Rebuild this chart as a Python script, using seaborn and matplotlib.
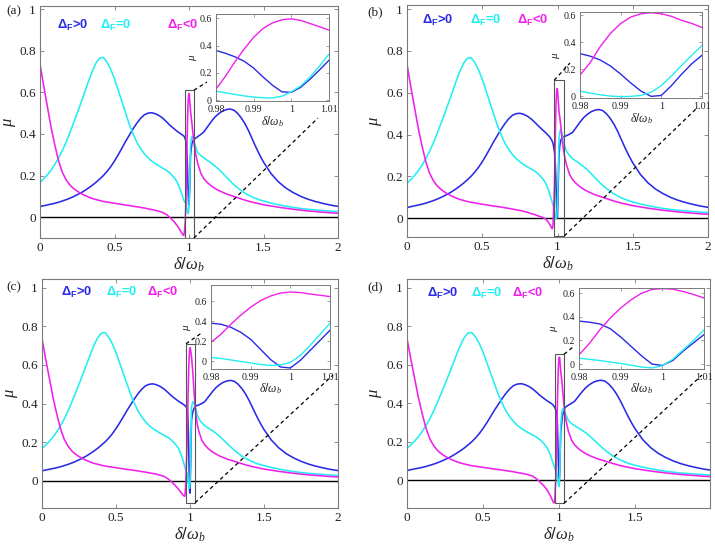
import numpy as np
import pandas as pd
import matplotlib
matplotlib.use("Agg")
import matplotlib.pyplot as plt
import seaborn as sns
from matplotlib import font_manager
from matplotlib.lines import Line2D
from matplotlib.patches import Rectangle

# ---------------- data ----------------
CASES = ["pos", "zero", "neg"]
COLORS = {"pos": "#2a2ae6", "zero": "#22eef2", "neg": "#f020ec"}
LEGEND_TEXT = {"pos": r"$\mathbf{\Delta_F}$>0", "zero": r"$\mathbf{\Delta_F}$=0", "neg": r"$\mathbf{\Delta_F}$<0"}

# broad part, left of resonance (shared by all panels)
x_left = [0, .025, .05, .075, .1, .125, .15, .175, .2, .225, .25, .275, .3, .325, .35, .375,
          .4, .425, .45, .475, .5, .525, .55, .575, .6, .625, .65, .675, .7, .725, .75, .775, .8]
blue_left = [0.051, 0.055, 0.059, 0.063, 0.067, 0.072, 0.078, 0.084, 0.091, 0.099, 0.108, 0.117,
             0.128, 0.14, 0.153, 0.167, 0.183, 0.2, 0.22, 0.243, 0.27, 0.3, 0.332, 0.365, 0.395,
             0.425, 0.452, 0.475, 0.492, 0.5, 0.502, 0.497, 0.488]
cyan_left = [0.167, 0.184, 0.204, 0.227, 0.254, 0.285, 0.32, 0.36, 0.405, 0.452, 0.5, 0.55, 0.6,
             0.652, 0.7, 0.74, 0.765, 0.768, 0.745, 0.71, 0.665, 0.61, 0.555, 0.5, 0.445, 0.4,
             0.36, 0.33, 0.305, 0.285, 0.27, 0.257, 0.246]
mag_left = [0.737, 0.63, 0.53, 0.43, 0.345, 0.27, 0.215, 0.18, 0.155, 0.138, 0.125, 0.114, 0.105,
            0.097, 0.09, 0.085, 0.08, 0.076, 0.073, 0.07, 0.067, 0.064, 0.061, 0.058, 0.056,
            0.053, 0.05, 0.047, 0.044, 0.04, 0.037, 0.033, 0.028]

# broad part, right of resonance (shared by all panels)
x_right = [1.1, 1.125, 1.15, 1.175, 1.2, 1.225, 1.25, 1.275, 1.3, 1.325, 1.35, 1.375, 1.4, 1.425,
           1.45, 1.475, 1.5, 1.55, 1.6, 1.65, 1.7, 1.75, 1.8, 1.85, 1.9, 1.95, 2.0]
blue_right = [0.41, 0.435, 0.46, 0.482, 0.498, 0.51, 0.517, 0.52, 0.515, 0.5, 0.478, 0.45, 0.415,
              0.375, 0.335, 0.298, 0.265, 0.21, 0.17, 0.14, 0.118, 0.1, 0.086, 0.075, 0.066,
              0.058, 0.052]
cyan_right = [0.285, 0.272, 0.26, 0.246, 0.23, 0.212, 0.193, 0.175, 0.157, 0.142, 0.128, 0.116,
              0.106, 0.097, 0.09, 0.083, 0.078, 0.068, 0.06, 0.053, 0.047, 0.042, 0.038, 0.035,
              0.032, 0.029, 0.027]
mag_right = [0.185, 0.165, 0.15, 0.138, 0.128, 0.12, 0.112, 0.106, 0.1, 0.094, 0.088, 0.082, 0.077,
             0.072, 0.068, 0.064, 0.06, 0.054, 0.048, 0.043, 0.038, 0.034, 0.03, 0.027, 0.024,
             0.021, 0.019]

# near-resonance parts (per panel)
x_near_left = [0.825, 0.85, 0.875, 0.9, 0.92, 0.94, 0.95, 0.96, 0.965, 0.97, 0.975]
x_near_right = [1.015, 1.02, 1.03, 1.04, 1.05, 1.06, 1.08]
x_inset = [0.98, 0.9825, 0.985, 0.9875, 0.99, 0.9925, 0.995, 0.9975, 1.0, 1.0025, 1.005, 1.0075, 1.01]

# panel (a)
a_blue_nl = [0.475, 0.458, 0.44, 0.425, 0.413, 0.403, 0.398, 0.393, 0.39, 0.385, 0.375]
a_cyan_nl = [0.235, 0.225, 0.21, 0.19, 0.17, 0.135, 0.115, 0.093, 0.083, 0.075, 0.07]
a_mag_nl = [0.022, 0.012, -0.003, -0.022, -0.04, -0.062, -0.075, -0.086, -0.088, -0.065, -0.015]
a_blue_in = [0.364, 0.343, 0.318, 0.285, 0.235, 0.17, 0.11, 0.062, 0.058, 0.095, 0.155, 0.222, 0.293]
a_cyan_in = [0.067, 0.055, 0.043, 0.032, 0.024, 0.018, 0.018, 0.03, 0.062, 0.105, 0.17, 0.25, 0.338]
a_mag_in = [0.083, 0.175, 0.28, 0.375, 0.46, 0.525, 0.565, 0.588, 0.595, 0.583, 0.56, 0.537, 0.512]
a_blue_nr = [0.33, 0.355, 0.372, 0.378, 0.382, 0.388, 0.398]
a_cyan_nr = [0.375, 0.387, 0.375, 0.35, 0.325, 0.31, 0.295]
a_mag_nr = [0.48, 0.45, 0.38, 0.325, 0.285, 0.255, 0.21]

# panel (b)
b_blue_nl = [0.475, 0.458, 0.44, 0.423, 0.41, 0.395, 0.387, 0.375, 0.368, 0.358, 0.34]
b_cyan_nl = [0.235, 0.225, 0.21, 0.19, 0.17, 0.135, 0.113, 0.088, 0.075, 0.062, 0.05]
b_mag_nl = [0.022, 0.017, 0.01, 0.004, -0.003, -0.02, -0.032, -0.045, -0.05, -0.035, 0.05]
b_blue_in = [0.317, 0.298, 0.269, 0.225, 0.165, 0.099, 0.039, 0.0, 0.007, 0.08, 0.165, 0.242, 0.305]
b_cyan_in = [0.039, 0.024, 0.012, 0.002, -0.002, 0.0, 0.007, 0.031, 0.08, 0.152, 0.23, 0.305, 0.377]
b_mag_in = [0.157, 0.25, 0.37, 0.467, 0.54, 0.588, 0.612, 0.62, 0.612, 0.593, 0.563, 0.54, 0.51]
b_blue_nr = [0.345, 0.37, 0.385, 0.39, 0.392, 0.395, 0.402]
b_cyan_nr = [0.41, 0.425, 0.405, 0.37, 0.34, 0.32, 0.3]
b_mag_nr = [0.485, 0.455, 0.38, 0.325, 0.285, 0.255, 0.21]

# panel (c)
c_blue_nl = [0.475, 0.458, 0.44, 0.425, 0.413, 0.403, 0.398, 0.393, 0.39, 0.386, 0.382]
c_cyan_nl = [0.235, 0.225, 0.21, 0.19, 0.17, 0.135, 0.112, 0.085, 0.07, 0.058, 0.048]
c_mag_nl = [0.022, 0.01, -0.006, -0.025, -0.042, -0.062, -0.072, -0.08, -0.081, -0.04, 0.06]
c_blue_in = [0.38, 0.37, 0.34, 0.29, 0.22, 0.12, 0.02, -0.055, -0.065, 0.01, 0.11, 0.21, 0.31]
c_cyan_in = [0.04, 0.03, 0.015, 0.0, -0.015, -0.03, -0.04, -0.035, -0.01, 0.06, 0.16, 0.27, 0.38]
c_mag_in = [0.19, 0.27, 0.37, 0.46, 0.54, 0.605, 0.65, 0.68, 0.69, 0.685, 0.67, 0.658, 0.645]
c_blue_nr = [0.34, 0.36, 0.38, 0.388, 0.39, 0.393, 0.4]
c_cyan_nr = [0.40, 0.41, 0.395, 0.37, 0.34, 0.32, 0.3]
c_mag_nr = [0.6, 0.55, 0.43, 0.34, 0.29, 0.255, 0.21]

# panel (d)
d_blue_nl = [0.475, 0.458, 0.44, 0.425, 0.413, 0.403, 0.398, 0.39, 0.385, 0.378, 0.37]
d_cyan_nl = [0.235, 0.225, 0.21, 0.19, 0.17, 0.135, 0.112, 0.088, 0.075, 0.065, 0.056]
d_mag_nl = [0.022, 0.008, -0.01, -0.03, -0.05, -0.078, -0.095, -0.112, -0.118, -0.11, -0.03]
d_blue_in = [0.364, 0.355, 0.34, 0.30, 0.23, 0.15, 0.07, 0.0, -0.012, 0.03, 0.11, 0.18, 0.25]
d_cyan_in = [0.05, 0.04, 0.03, 0.017, 0.005, -0.01, -0.025, -0.033, -0.015, 0.04, 0.12, 0.2, 0.29]
d_mag_in = [0.078, 0.175, 0.29, 0.39, 0.475, 0.545, 0.60, 0.633, 0.64, 0.635, 0.615, 0.59, 0.56]
d_blue_nr = [0.29, 0.33, 0.365, 0.38, 0.385, 0.39, 0.4]
d_cyan_nr = [0.34, 0.37, 0.365, 0.345, 0.33, 0.31, 0.295]
d_mag_nr = [0.53, 0.49, 0.4, 0.33, 0.29, 0.255, 0.21]

main_xticks = [0, 0.5, 1, 1.5, 2]
main_yticks = [0, 0.2, 0.4, 0.6, 0.8, 1]
inset_xticks = [0.98, 0.99, 1.0, 1.01]
inset_yticks = [0, 0.2, 0.4, 0.6]
panel_labels = ["(a)", "(b)", "(c)", "(d)"]

near = {
    "a": dict(pos=(a_blue_nl, a_blue_in, a_blue_nr), zero=(a_cyan_nl, a_cyan_in, a_cyan_nr), neg=(a_mag_nl, a_mag_in, a_mag_nr)),
    "b": dict(pos=(b_blue_nl, b_blue_in, b_blue_nr), zero=(b_cyan_nl, b_cyan_in, b_cyan_nr), neg=(b_mag_nl, b_mag_in, b_mag_nr)),
    "c": dict(pos=(c_blue_nl, c_blue_in, c_blue_nr), zero=(c_cyan_nl, c_cyan_in, c_cyan_nr), neg=(c_mag_nl, c_mag_in, c_mag_nr)),
    "d": dict(pos=(d_blue_nl, d_blue_in, d_blue_nr), zero=(d_cyan_nl, d_cyan_in, d_cyan_nr), neg=(d_mag_nl, d_mag_in, d_mag_nr)),
}
broad = {"pos": (blue_left, blue_right), "zero": (cyan_left, cyan_right), "neg": (mag_left, mag_right)}

# ---------------- layout (pixel boxes: left, top, right, bottom) ----------------
W, H = 715, 550
layout = [
    dict(key="a", ax=(40, 6, 338, 238), ins=(216, 14, 329, 101), ylim=(-0.1, 1.015), xlim=(0, 2),
         ins_ylim=(-0.005, 0.63), rect=(0.97, -0.1, 1.033, 0.61), up="right",
         up_end=(207, 82), low_end=(318, 118), leg_x=(0.114, 0.40, 0.85), leg_y=0.90, lab=(6, 11)),
    dict(key="b", ax=(407, 5, 708, 237), ins=(580, 12, 702, 98), ylim=(-0.09, 1.02), xlim=(0, 2),
         ins_ylim=(-0.012, 0.625), rect=(0.978, -0.085, 1.045, 0.66), up="left",
         up_end=(570, 63), low_end=(698, 107), leg_x=(0.10, 0.42, 0.73), leg_y=0.918, lab=(367, 12)),
    dict(key="c", ax=(42, 279, 338, 508), ins=(211, 285, 330, 369), ylim=(-0.142, 1.046), xlim=(0, 2),
         ins_ylim=(-0.075, 0.76), rect=(0.973, -0.115, 1.034, 0.71), up="left",
         up_end=(203, 332), low_end=(333, 375), leg_x=(0.13, 0.43, 0.71), leg_y=0.927, lab=(6, 287)),
    dict(key="d", ax=(407, 279, 710, 508), ins=(579, 288, 704, 369), ylim=(-0.144, 1.046), xlim=(0, 1.99),
         ins_ylim=(-0.042, 0.645), rect=(0.97, -0.12, 1.031, 0.655), up="right",
         up_end=(573, 347), low_end=(702, 375), leg_x=(0.13, 0.42, 0.69), leg_y=0.921, lab=(367, 287)),
]

installed = {f.name for f in font_manager.fontManager.ttflist}
SERIF = "Liberation Serif" if "Liberation Serif" in installed else "STIXGeneral"
SANS = "Liberation Sans" if "Liberation Sans" in installed else "DejaVu Sans"

sns.set_theme(style="white")
plt.rcParams.update({
    "font.family": [SERIF, "DejaVu Serif"],
    "mathtext.fontset": "custom",
    "mathtext.rm": SANS,
    "mathtext.it": SERIF + ":italic",
    "mathtext.bf": SANS + ":bold",
    "axes.edgecolor": "#7a7a7a",
    "axes.linewidth": 0.8,
})

fig = plt.figure(figsize=(W / 100, H / 100), dpi=100)
fig.patch.set_facecolor("white")


def box(px):
    l, t, r, b = px
    return [l / W, 1 - b / H, (r - l) / W, (b - t) / H]


def fig_frac(pt):
    return (pt[0] / W, 1 - pt[1] / H)


def fmt(v):
    return "%g" % v


for i, cfg in enumerate(layout):
    k = cfg["key"]
    rows, rows_in = [], []
    for case in CASES:
        nl, ins, nr = near[k][case]
        bl, br = broad[case]
        xs = x_left + x_near_left + x_inset + x_near_right + x_right
        ys = bl + nl + ins + nr + br
        rows.append(pd.DataFrame({"delta": xs, "mu": ys, "case": case}))
        rows_in.append(pd.DataFrame({"delta": x_inset, "mu": ins, "case": case}))
    df = pd.concat(rows, ignore_index=True)
    df_in = pd.concat(rows_in, ignore_index=True)

    ax = fig.add_axes(box(cfg["ax"]))
    ax.set_facecolor("white")
    ax.axhline(0, color="black", lw=1.0, zorder=1)
    sns.lineplot(data=df, x="delta", y="mu", hue="case", hue_order=CASES, palette=COLORS,
                 legend=False, ax=ax, linewidth=1.15, zorder=2)
    ax.set_xlim(*cfg["xlim"])
    ax.set_ylim(*cfg["ylim"])
    xt = [t for t in main_xticks if t <= cfg["xlim"][1] + 1e-9]
    ax.set_xticks(xt)
    ax.set_xticklabels([fmt(t) for t in xt])
    ax.set_yticks(main_yticks)
    ax.set_yticklabels([fmt(t) for t in main_yticks])
    ax.tick_params(direction="in", length=3, width=0.6, top=True, right=True, bottom=True, left=True,
                   color="#7a7a7a", labelcolor="#222222", labelsize=9.5, pad=3)
    ax.set_xlabel(r"$\delta/\omega_b$", fontsize=12, color="#222222")
    ax.set_ylabel(r"$\mu$", fontsize=12, color="#222222")
    ax.xaxis.set_label_coords(0.5, -0.075)
    ax.yaxis.set_label_coords(-0.075, 0.5)
    for s in ax.spines.values():
        s.set_visible(True)

    # zoom rectangle
    x0, y0, x1, y1 = cfg["rect"]
    ax.add_patch(Rectangle((x0, y0), x1 - x0, y1 - y0, fill=False, edgecolor="#555555", lw=0.8, zorder=3))

    # legend-like texts
    for case, lx in zip(CASES, cfg["leg_x"]):
        ax.text(lx, cfg["leg_y"], LEGEND_TEXT[case], transform=ax.get_xaxis_transform(),
                color=COLORS[case], fontsize=9.3, fontweight="bold", family=SANS,
                va="baseline", ha="left")

    # panel label
    lx, ly = fig_frac(cfg["lab"])
    fig.text(lx, ly, panel_labels[i], fontsize=9.5, va="center", ha="left", color="#222222")

    # inset
    axi = fig.add_axes(box(cfg["ins"]))
    axi.set_facecolor("white")
    sns.lineplot(data=df_in, x="delta", y="mu", hue="case", hue_order=CASES, palette=COLORS,
                 legend=False, ax=axi, linewidth=1.0)
    axi.set_xlim(0.98, 1.01)
    axi.set_ylim(*cfg["ins_ylim"])
    axi.set_xticks(inset_xticks)
    axi.set_xticklabels([fmt(t) for t in inset_xticks])
    axi.set_yticks(inset_yticks)
    axi.set_yticklabels([fmt(t) for t in inset_yticks])
    axi.tick_params(direction="in", length=2.5, width=0.5, top=True, right=True, bottom=True, left=True,
                    color="#7a7a7a", labelcolor="#222222", labelsize=7.2)
    axi.tick_params(axis="x", pad=3)
    axi.tick_params(axis="y", pad=3)
    axi.set_xlabel(r"$\delta/\omega_b$", fontsize=8.5, color="#222222")
    axi.set_ylabel(r"$\mu$", fontsize=8, color="#222222")
    axi.xaxis.set_label_coords(0.5, -0.15)
    axi.yaxis.set_label_coords(-0.15, 0.5)
    for s in axi.spines.values():
        s.set_visible(True)
        s.set_linewidth(0.7)

    # dashed connector lines
    inv = fig.transFigure.inverted()
    up_start = (x1, y1) if cfg["up"] == "right" else (x0, y1)
    p_up = inv.transform(ax.transData.transform(up_start))
    p_low = inv.transform(ax.transData.transform((x1, y0)))
    e_up = fig_frac(cfg["up_end"])
    e_low = fig_frac(cfg["low_end"])
    for p, e in ((p_up, e_up), (p_low, e_low)):
        fig.add_artist(Line2D([p[0], e[0]], [p[1], e[1]], transform=fig.transFigure,
                              color="black", lw=0.9, linestyle=(0, (3, 2.5))))

fig.savefig("out.png", dpi=100, facecolor="white")
